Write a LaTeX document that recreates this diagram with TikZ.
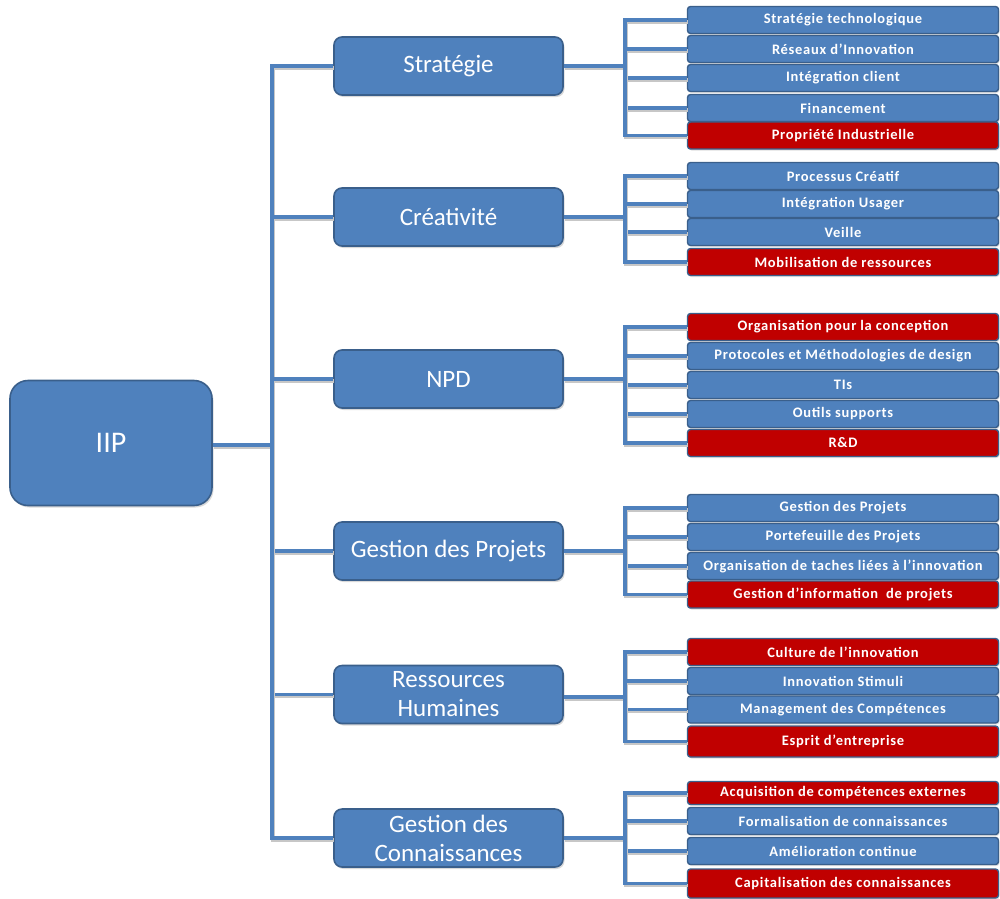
\documentclass[tikz,border=0pt]{standalone}
\usepackage{fontspec}
\setmainfont{Carlito}
\newfontfamily\leaffont[LetterSpace=5]{Carlito}
\usetikzlibrary{shadows}
\definecolor{boxblue}{HTML}{4F81BD}
\definecolor{boxborder}{HTML}{3A5F8B}
\definecolor{boxred}{HTML}{C00000}
\tikzset{
  conn/.style={draw=boxblue, line width=3.5pt,
    preaction={draw=black!22, line width=3.5pt, transform canvas={xshift=1pt,yshift=-1.8pt}}},
  rootbox/.style={draw=boxborder, line width=1.6pt, fill=boxblue, rounded corners=18pt,
    minimum width=202pt, minimum height=125pt, text=white, font=\fontsize{30}{34}\selectfont,
    drop shadow={opacity=0.3, shadow xshift=1.5pt, shadow yshift=-2pt}},
  midbox/.style={draw=boxborder, line width=1.6pt, fill=boxblue, rounded corners=8pt,
    minimum width=229pt, minimum height=58pt, inner sep=1pt, text=white, align=center,
    font=\fontsize{25}{29}\selectfont,
    drop shadow={opacity=0.3, shadow xshift=1.5pt, shadow yshift=-2pt}},
  leafbox/.style={draw=boxborder, line width=1.4pt, fill=boxblue, rounded corners=3pt,
    minimum width=311pt, minimum height=27pt, inner sep=0pt, text=white,
    font=\leaffont\bfseries\fontsize{14.5}{16}\selectfont,
    drop shadow={opacity=0.25, shadow xshift=1pt, shadow yshift=-1.5pt}},
  redleaf/.style={leafbox, fill=boxred},
}
\begin{document}
\begin{tikzpicture}[x=1pt,y=-1pt]
\useasboundingbox (0,0) rectangle (1000,898);
\clip (0,0) rectangle (1000,898);

% root and mid boxes
\node[rootbox] (iip) at (111,443) {IIP};
\node[midbox] (strat) at (448.5,66) {Stratégie};
\node[midbox] (crea) at (448.5,217) {Créativité};
\node[midbox] (npd) at (448.5,379) {NPD};
\node[midbox] (gp) at (448.5,551) {Gestion des Projets};
\node[midbox] (rh) at (448.5,694.5) {Ressources\\Humaines};
\node[midbox] (gc) at (448.5,838) {Gestion des\\Connaissances};

% leaves
\node[leafbox] (s1) at (843,20) {Stratégie technologique};
\node[leafbox] (s2) at (843,49) {Réseaux d’Innovation};
\node[leafbox] (s3) at (843,78) {Intégration client};
\node[leafbox] (s4) at (843,108) {Financement};
\node[redleaf] (s5) at (843,135.5) {Propriété Industrielle};

\node[leafbox] (c1) at (843,176) {Processus Créatif};
\node[leafbox] (c2) at (843,204) {Intégration Usager};
\node[leafbox] (c3) at (843,232) {Veille};
\node[redleaf] (c4) at (843,262) {Mobilisation de ressources};

\node[redleaf] (n1) at (843,327) {Organisation pour la conception};
\node[leafbox] (n2) at (843,356) {Protocoles et Méthodologies de design};
\node[leafbox] (n3) at (843,385) {TIs};
\node[leafbox] (n4) at (843,414) {Outils supports};
\node[redleaf] (n5) at (843,443) {R\&D};

\node[leafbox] (g1) at (843,508) {Gestion des Projets};
\node[leafbox] (g2) at (843,537) {Portefeuille des Projets};
\node[leafbox] (g3) at (843,566) {Organisation de taches liées à l’innovation};
\node[redleaf] (g4) at (843,594.5) {Gestion d’information\ \ de projets};

\node[redleaf] (r1) at (843,652) {Culture de l’innovation};
\node[leafbox] (r2) at (843,681) {Innovation Stimuli};
\node[leafbox] (r3) at (843,709.5) {Management des Compétences};
\node[redleaf, minimum height=31pt] (r4) at (843,741.5) {Esprit d’entreprise};

\node[redleaf, minimum height=23pt] (k1) at (843,793) {Acquisition de compétences externes};
\node[leafbox] (k2) at (843,821) {Formalisation de connaissances};
\node[leafbox] (k3) at (843,851) {Amélioration continue};
\node[redleaf, minimum height=29pt] (k4) at (843,883.5) {Capitalisation des connaissances};

% junction coordinates
\coordinate (tj) at (272,445);
\coordinate (js) at (625,66);
\coordinate (jc) at (625,217);
\coordinate (jn) at (625,379);
\coordinate (jg) at (625,551);
\coordinate (jr) at (625,697);
\coordinate (jk) at (625,838);

% connectors
\draw[conn] (iip.east |- tj) -- (tj);
\draw[conn] (tj) |- (strat.west);
\draw[conn] (tj) |- (crea.west);
\draw[conn] (tj) |- (npd.west);
\draw[conn] (tj) |- (gp.west);
\draw[conn] (tj) |- (rh.west);
\draw[conn] (tj) |- (gc.west);

\draw[conn] (strat.east) -- (js);
\foreach \l in {s1,s2,s3,s4,s5} \draw[conn] (js) |- (\l.west);
\draw[conn] (crea.east) -- (jc);
\foreach \l in {c1,c2,c3,c4} \draw[conn] (jc) |- (\l.west);
\draw[conn] (npd.east) -- (jn);
\foreach \l in {n1,n2,n3,n4,n5} \draw[conn] (jn) |- (\l.west);
\draw[conn] (gp.east) -- (jg);
\foreach \l in {g1,g2,g3,g4} \draw[conn] (jg) |- (\l.west);
\draw[conn] (rh.east |- jr) -- (jr);
\foreach \l in {r1,r2,r3,r4} \draw[conn] (jr) |- (\l.west);
\draw[conn] (gc.east) -- (jk);
\foreach \l in {k1,k2,k3,k4} \draw[conn] (jk) |- (\l.west);
\end{tikzpicture}
\end{document}
